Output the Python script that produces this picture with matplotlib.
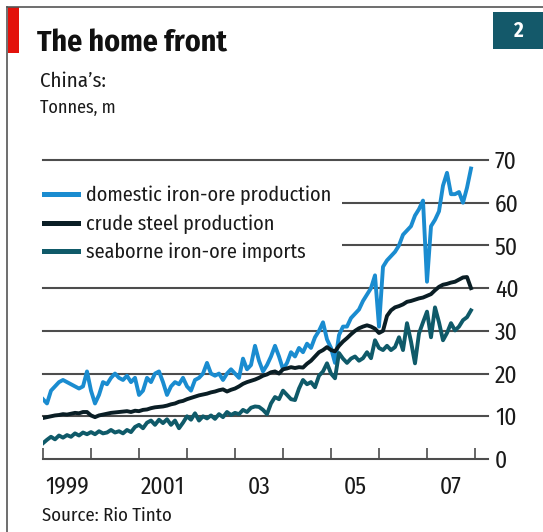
import matplotlib
matplotlib.use("Agg")
import matplotlib.pyplot as plt
import numpy as np
from matplotlib.patches import Rectangle
from matplotlib.lines import Line2D

# monthly values, Jan 1999 - Dec 2007, tonnes m
domestic_ore = [
    14, 13, 16, 17, 18, 18.5, 18, 17.5, 17, 16.5, 17, 20.5,
    16, 13, 15, 18, 17.5, 19, 20, 19, 18.5, 19.5, 18, 19,
    15, 16, 19, 18, 20, 20.5, 18, 15, 17, 18, 17.5, 19,
    17, 16, 18.5, 19, 20, 22.5, 20, 19.5, 20, 18.5, 20, 21,
    20, 19, 23.5, 21, 22, 26.5, 23, 20.5, 22, 24, 26.5, 24,
    21, 22.5, 25, 24, 26, 25, 27, 26, 28.5, 30, 32, 28,
    26, 22.5, 29, 31, 31, 33, 34, 35, 37, 38.5, 40, 43,
    31, 45, 46.5, 47.5, 48.5, 50, 52.5, 53.5, 54.5, 57, 58.5, 60.5,
    41.5, 54.5, 56, 58, 64, 67, 62, 62, 62.5, 60, 63.5, 68,
]
crude_steel = [
    9.6, 9.8, 10, 10.2, 10.3, 10.5, 10.4, 10.6, 10.8, 10.7, 11, 11,
    10.2, 9.8, 10.2, 10.4, 10.6, 10.8, 10.9, 11, 11.1, 11.2, 11, 11.3,
    11.2, 11.5, 11.6, 11.9, 12.1, 12.2, 12.3, 12.5, 12.8, 13, 13.4, 13.6,
    14, 14.3, 14.6, 14.9, 15.1, 15.3, 15.6, 15.8, 16.1, 16.3, 15.8, 16.2,
    16.5, 17, 17.6, 18, 18.3, 18.6, 19, 19.5, 19.8, 20.3, 20.5, 20,
    21, 21.2, 21.5, 21.3, 21.5, 21.4, 22.3, 23, 24, 25, 25.5, 26.2,
    25.5, 25.2, 26.5, 27.5, 28.3, 29.2, 30, 30.6, 31, 31.3, 31, 30.5,
    29.5, 30, 33.5, 34.8, 35.5, 35.8, 36.2, 36.8, 37, 37.3, 37.6, 37.8,
    38.2, 38.6, 39.5, 40.3, 40.8, 41, 41.3, 41.5, 42, 42.5, 42.6, 40,
]
seaborne_imports = [
    3.7, 4.5, 5.2, 4.6, 5.5, 5, 5.6, 5.2, 6, 5.5, 6.2, 5.8,
    6.3, 5.8, 6.5, 6, 6.2, 6.8, 6.2, 6.5, 6, 6.8, 6.3, 7.5,
    8, 7.2, 8.5, 9, 8, 9.2, 8.4, 9.3, 8, 9, 7.2, 8.5,
    10, 9.2, 10.7, 9, 10, 9.5, 10.2, 9.4, 10.5, 9.8, 11, 10.3,
    10.8, 10.5, 11.5, 11, 12, 12.3, 12.2, 11.5, 10.5, 13, 14.5, 14,
    16, 15, 14, 13.8, 16.5, 18.5, 17.5, 18, 16.8, 19.5, 20.5, 22.4,
    20, 18.9, 24.8, 23.5, 22.5, 23.5, 24, 23, 23.6, 25, 23.6, 27.8,
    26, 25.5, 26.5, 25.5, 26.2, 28.5, 25.5, 31.8, 27.5, 22.4, 29.4, 32,
    34.5, 28.5, 35.5, 32, 27.8, 29.5, 31.8, 30.1, 31, 32.5, 33.2, 34.8,
]
series_labels = ["domestic iron-ore production", "crude steel production",
                 "seaborne iron-ore imports"]
year_labels = ["1999", "2001", "03", "05", "07"]
y_ticks = [0, 10, 20, 30, 40, 50, 60, 70]

months = 1999 + np.arange(len(domestic_ore)) / 12.0

plt.rcParams['font.family'] = ['Fira Sans Condensed', 'DejaVu Sans']

W, H = 543, 532
fig = plt.figure(figsize=(W / 100, H / 100), dpi=100)
fig.patch.set_facecolor('white')

grid_col = '#4d4d4d'
blue = '#1a8cd0'
black = '#0a1e25'
teal = '#0f5a69'
txt_col = '#1a1a1a'

ax = fig.add_axes([43 / W, (H - 459) / H, (488 - 43) / W, (459 - 160) / H])
for v in y_ticks:
    ax.axhline(v, color=grid_col, lw=1.5, clip_on=False, zorder=1)

l1, = ax.plot(months, domestic_ore, color=blue, lw=2.8, zorder=3,
              solid_joinstyle='round')
l3, = ax.plot(months, seaborne_imports, color=teal, lw=2.8, zorder=3,
              solid_joinstyle='round')
l2, = ax.plot(months, crude_steel, color=black, lw=2.8, zorder=4,
              solid_joinstyle='round')

ax.set_xlim(1999, 1999 + (488 - 43) / 48)
ax.set_ylim(0, 70)
for s in ax.spines.values():
    s.set_visible(False)

ax.set_xticks(np.arange(1999, 2009))
ax.set_xticklabels([])
ax.tick_params(axis='x', which='major', direction='in', length=8,
               width=1.2, color=grid_col)
ax.set_xticks([1999.5, 2001.5, 2003.5, 2005.5, 2007.5], minor=True)
ax.set_xticklabels(year_labels, minor=True, fontsize=17, color=txt_col)
ax.tick_params(axis='x', which='minor', length=0, pad=12)

ax.yaxis.tick_right()
ax.set_yticks(y_ticks)
ax.set_yticklabels([str(v) for v in y_ticks], fontsize=17, color=txt_col)
ax.tick_params(axis='y', length=0, pad=5)

leg = ax.legend([l1, l2, l3], series_labels, loc='center left',
                bbox_to_anchor=(-0.02, 0.786), fontsize=14.5, frameon=True,
                facecolor='white', edgecolor='none', framealpha=1,
                handlelength=1.7, handletextpad=0.4, labelspacing=0.45,
                borderaxespad=0, borderpad=0.5, fancybox=False)
leg.get_frame().set_linewidth(0)
leg.set_zorder(2)
for h in leg.get_lines():
    h.set_linewidth(3.6)
for t in leg.get_texts():
    t.set_color(txt_col)

# header
fig.add_artist(Line2D([7 / W, 1], [1 - 7 / H, 1 - 7 / H], color='#555', lw=1.2))
fig.add_artist(Line2D([7 / W, 7 / W], [0, 1 - 7 / H], color='#555', lw=1.2))
fig.add_artist(Rectangle((8 / W, 1 - 53 / H), 11 / W, 46 / H,
                         color='#e3120b', lw=0))
fig.add_artist(Rectangle((493 / W, 1 - 49 / H), 50 / W, 37 / H,
                         color='#14596a', lw=0))
fig.text(518 / W, 1 - 31 / H, '2', color='white', fontsize=15,
         fontweight='bold', ha='center', va='center')

fig.text(37 / W, 1 - 52 / H, 'The home front', fontsize=21.5,
         fontweight='bold', va='baseline', color='#111')
fig.text(40 / W, 1 - 87 / H, 'China\u2019s:', fontsize=15, va='baseline',
         color=txt_col)
fig.text(40 / W, 1 - 113 / H, 'Tonnes, m', fontsize=13, va='baseline',
         color=txt_col)
fig.text(42 / W, 1 - 521 / H, 'Source: Rio Tinto', fontsize=13.5,
         va='baseline', color=txt_col)

plt.savefig('out.png', dpi=100)
